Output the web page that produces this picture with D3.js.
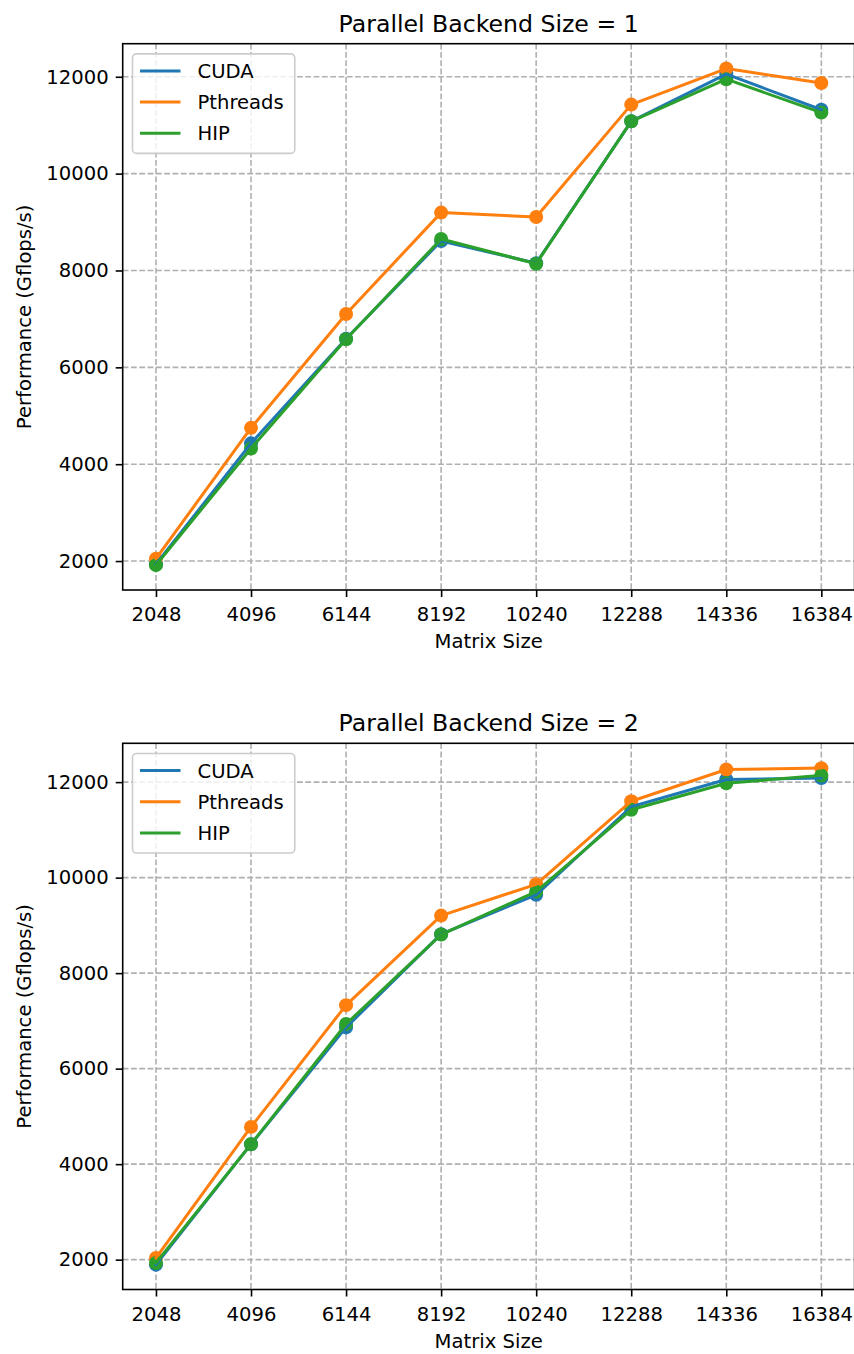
<!DOCTYPE html>
<html>
<head>
<meta charset="utf-8">
<script src="https://cdn.jsdelivr.net/npm/d3@7"></script>
<style>
  html, body { margin: 0; padding: 0; background: #fff; }
  svg text { font-family: "DejaVu Sans", sans-serif; fill: #000; }
</style>
</head>
<body>
<svg id="chart" width="854" height="1354"></svg>
<script>
// ---- data ----
const matrixSizes = [2048, 4096, 6144, 8192, 10240, 12288, 14336, 16384];
const backends = ["CUDA", "Pthreads", "HIP"];
const backendColors = ["#1f77b4", "#ff7f0e", "#2ca02c"];
const yTickValues = [2000, 4000, 6000, 8000, 10000, 12000];
const panelTitles = ["Parallel Backend Size = 1", "Parallel Backend Size = 2"];

const cudaSize1     = [1935, 4430, 6590, 8610, 8150, 11080, 12055, 11320];
const pthreadsSize1 = [2050, 4750, 7100, 9195, 9105, 11425, 12170, 11870];
const hipSize1      = [1915, 4325, 6580, 8650, 8140, 11080, 11950, 11260];

const cudaSize2     = [1895, 4418, 6864, 8816, 9640, 11484, 12056, 12085];
const pthreadsSize2 = [2035, 4780, 7330, 9205, 9860, 11600, 12265, 12293];
const hipSize2      = [1930, 4418, 6934, 8808, 9707, 11420, 11975, 12140];

const panelSeries = [
  [cudaSize1, pthreadsSize1, hipSize1],
  [cudaSize2, pthreadsSize2, hipSize2]
];

// ---- layout ----
const svg = d3.select("#chart");
const FS = 19.6, TFS = 23.6;
const left = 122.7, right = 854.6;
const panelBoxes = [{top: 43.7, bottom: 590}, {top: 743.3, bottom: 1289.5}];

panelSeries.forEach((series, pi) => {
  const box = panelBoxes[pi];
  const g = svg.append("g");

  const xSpan = d3.max(matrixSizes) - d3.min(matrixSizes);
  const x = d3.scaleLinear()
    .domain([d3.min(matrixSizes) - 0.05 * xSpan, d3.max(matrixSizes) + 0.05 * xSpan])
    .range([left, right]);
  const all = series.flat();
  const yMin = d3.min(all), yMax = d3.max(all), ySpan = yMax - yMin;
  const y = d3.scaleLinear()
    .domain([yMin - 0.05 * ySpan, yMax + 0.05 * ySpan])
    .range([box.bottom, box.top]);

  // grid
  const grid = g.append("g").attr("stroke", "#b0b0b0").attr("stroke-width", 1.6)
    .attr("stroke-dasharray", "5.8,2.5");
  grid.selectAll("line.v").data(matrixSizes).join("line")
    .attr("x1", d => x(d)).attr("x2", d => x(d))
    .attr("y1", box.top).attr("y2", box.bottom);
  grid.selectAll("line.h").data(yTickValues).join("line")
    .attr("x1", left).attr("x2", right)
    .attr("y1", d => y(d)).attr("y2", d => y(d));

  // scatter markers
  series.forEach((vals, si) => {
    g.append("g").selectAll("circle").data(vals).join("circle")
      .attr("cx", (d, i) => x(matrixSizes[i]))
      .attr("cy", d => y(d))
      .attr("r", 7)
      .attr("fill", backendColors[si]);
  });

  // lines
  const line = d3.line().x((d, i) => x(matrixSizes[i])).y(d => y(d));
  series.forEach((vals, si) => {
    g.append("path").datum(vals)
      .attr("d", line)
      .attr("fill", "none")
      .attr("stroke", backendColors[si])
      .attr("stroke-width", 3)
      .attr("stroke-linejoin", "round")
      .attr("stroke-linecap", "square");
  });

  // frame
  g.append("rect")
    .attr("x", left).attr("y", box.top)
    .attr("width", right - left).attr("height", box.bottom - box.top)
    .attr("fill", "none").attr("stroke", "#000").attr("stroke-width", 1.6);

  // axes
  const xAxis = g.append("g").attr("transform", `translate(0,${box.bottom})`)
    .call(d3.axisBottom(x).tickValues(matrixSizes).tickFormat(d3.format("d"))
      .tickSizeInner(7).tickSizeOuter(0).tickPadding(6));
  const yAxis = g.append("g").attr("transform", `translate(${left},0)`)
    .call(d3.axisLeft(y).tickValues(yTickValues).tickFormat(d3.format("d"))
      .tickSizeInner(7).tickSizeOuter(0).tickPadding(7));
  [xAxis, yAxis].forEach(a => {
    a.select(".domain").remove();
    a.selectAll(".tick line").attr("stroke", "#000").attr("stroke-width", 1.6);
    a.selectAll(".tick text").attr("font-size", FS).attr("fill", "#000")
      .style("font-family", "'DejaVu Sans', sans-serif");
  });
  xAxis.selectAll(".tick text").attr("dy", null).attr("y", 31).attr("dominant-baseline", "auto");

  // title
  g.append("text")
    .attr("x", (left + right) / 2).attr("y", box.top - 12)
    .attr("text-anchor", "middle").attr("font-size", TFS)
    .text(panelTitles[pi]);

  // axis labels
  g.append("text")
    .attr("x", (left + right) / 2).attr("y", box.bottom + 58)
    .attr("text-anchor", "middle").attr("font-size", FS)
    .text("Matrix Size");
  g.append("text")
    .attr("transform", `translate(31.4,${(box.top + box.bottom) / 2}) rotate(-90)`)
    .attr("text-anchor", "middle").attr("font-size", FS)
    .text("Performance (Gflops/s)");

  // legend
  const lx = left + 9.8, ly = box.top + 10.2;
  const leg = g.append("g");
  const legRect = leg.append("rect")
    .attr("x", lx).attr("y", ly).attr("rx", 4).attr("ry", 4)
    .attr("height", 99.5)
    .attr("fill", "#fff").attr("fill-opacity", 0.8)
    .attr("stroke", "#cccccc").attr("stroke-width", 1.6);
  let maxW = 0;
  backends.forEach((name, si) => {
    const cy = ly + 17 + si * 31.2;
    leg.append("line")
      .attr("x1", lx + 7.5).attr("x2", lx + 48)
      .attr("y1", cy).attr("y2", cy)
      .attr("stroke", backendColors[si]).attr("stroke-width", 3);
    const t = leg.append("text")
      .attr("x", lx + 65).attr("y", cy + 7)
      .attr("font-size", FS)
      .text(name);
    maxW = Math.max(maxW, t.node().getComputedTextLength());
  });
  legRect.attr("width", 65 + maxW + 11);
});
</script>
</body>
</html>
